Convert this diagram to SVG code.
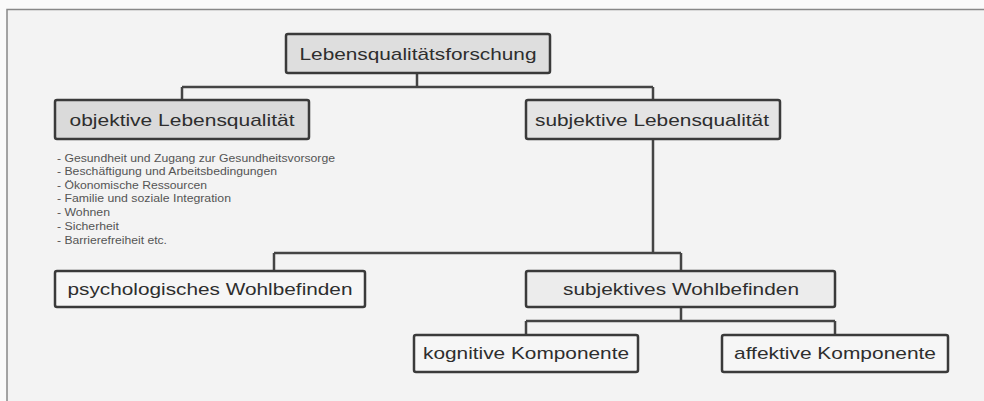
<svg xmlns="http://www.w3.org/2000/svg" width="984" height="401" viewBox="0 0 984 401">
<style>
.box{stroke:#3a3a3a;stroke-width:2.5}
.lbl{font-family:"Liberation Sans",Arial,sans-serif;font-size:17px;fill:#2e2e2e;text-anchor:middle;dominant-baseline:central}
.bul{font-family:"Liberation Sans",Arial,sans-serif;font-size:10px;fill:#555}
.con{fill:none;stroke:#444;stroke-width:2.5}
</style>
<rect x="0" y="0" width="984" height="401" fill="#fafafa"/>
<rect x="7" y="9.5" width="990" height="400" fill="#f3f3f3" stroke="#888" stroke-width="1.5"/>
<g id="connectors">
<path class="con" d="M417 73 V87 M182 87 H653 M182 87 V100 M653 87 V100"/>
<path class="con" d="M653 139 V253 M274 253 H681 M274 253 V271 M681 253 V271"/>
<path class="con" d="M681 307 V321 M526 321 H835 M526 321 V335 M835 321 V335"/>
</g>
<g id="n-root"><rect class="box" x="286" y="34" width="264" height="39" rx="2" fill="#dedede"/><text class="lbl" x="418" y="54" textLength="237" lengthAdjust="spacingAndGlyphs">Lebensqualitätsforschung</text></g>
<g id="n-obj"><rect class="box" x="55" y="100" width="254" height="39" rx="2" fill="#dadada"/><text class="lbl" x="182" y="120" textLength="225" lengthAdjust="spacingAndGlyphs">objektive Lebensqualität</text></g>
<g id="n-subj"><rect class="box" x="526" y="100" width="254" height="39" rx="2" fill="#e4e4e4"/><text class="lbl" x="652" y="120" textLength="234" lengthAdjust="spacingAndGlyphs">subjektive Lebensqualität</text></g>
<g id="obj-list" class="bul">
<text x="57" y="161.5" textLength="278" lengthAdjust="spacingAndGlyphs">- Gesundheit und Zugang zur Gesundheitsvorsorge</text>
<text x="57" y="175" textLength="220" lengthAdjust="spacingAndGlyphs">- Beschäftigung und Arbeitsbedingungen</text>
<text x="57" y="188.5" textLength="150" lengthAdjust="spacingAndGlyphs">- Ökonomische Ressourcen</text>
<text x="57" y="202" textLength="174" lengthAdjust="spacingAndGlyphs">- Familie und soziale Integration</text>
<text x="57" y="215.5" textLength="53" lengthAdjust="spacingAndGlyphs">- Wohnen</text>
<text x="57" y="229.5" textLength="62" lengthAdjust="spacingAndGlyphs">- Sicherheit</text>
<text x="57" y="243.5" textLength="110" lengthAdjust="spacingAndGlyphs">- Barrierefreiheit etc.</text>
</g>
<g id="n-psych"><rect class="box" x="55" y="271" width="310" height="36" rx="2" fill="#f6f6f6"/><text class="lbl" x="210" y="289" textLength="285" lengthAdjust="spacingAndGlyphs">psychologisches Wohlbefinden</text></g>
<g id="n-swb"><rect class="box" x="526" y="271" width="309" height="36" rx="2" fill="#ececec"/><text class="lbl" x="681" y="289" textLength="236" lengthAdjust="spacingAndGlyphs">subjektives Wohlbefinden</text></g>
<g id="n-kog"><rect class="box" x="414" y="335" width="224" height="37" rx="2" fill="#f6f6f6"/><text class="lbl" x="526" y="353" textLength="206" lengthAdjust="spacingAndGlyphs">kognitive Komponente</text></g>
<g id="n-aff"><rect class="box" x="722" y="335" width="226" height="37" rx="2" fill="#f6f6f6"/><text class="lbl" x="835" y="353" textLength="202" lengthAdjust="spacingAndGlyphs">affektive Komponente</text></g>
</svg>
